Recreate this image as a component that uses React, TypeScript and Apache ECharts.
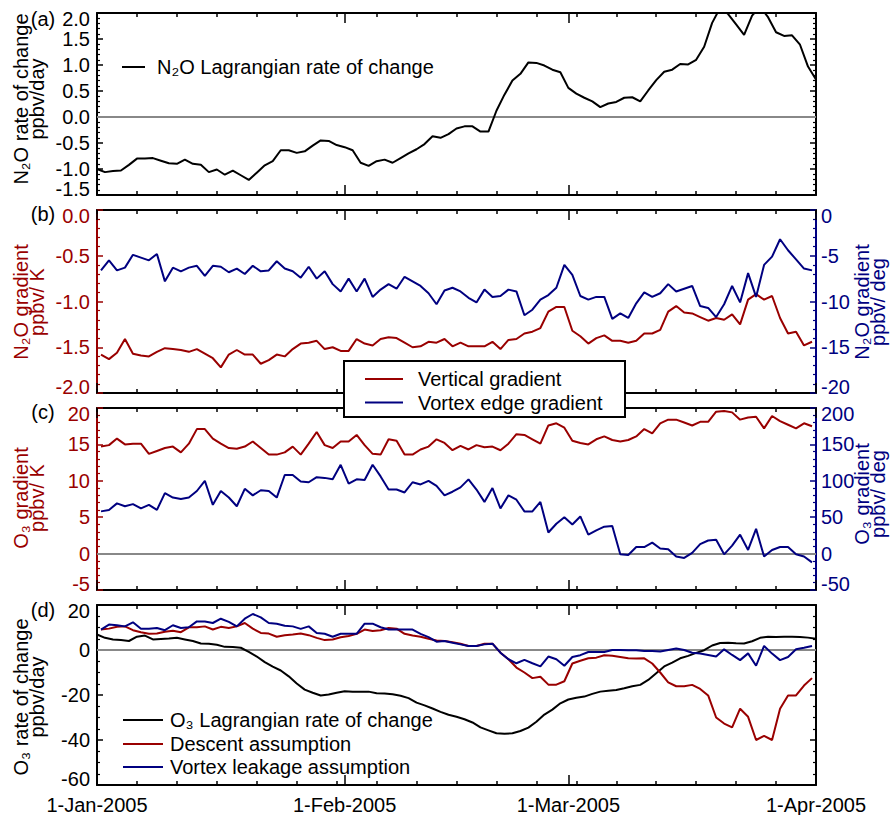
import React, { useEffect, useRef } from "react";
import * as echarts from "echarts";

// ---------- data ----------
// x axis: days since 1-Jan-2005
const monthTickDays = [0, 31, 59, 90];
const monthTickLabels = ["1-Jan-2005", "1-Feb-2005", "1-Mar-2005", "1-Apr-2005"];

// (a) N2O Lagrangian rate of change, ppbv/day, daily (day 0..90)
const n2oRate = [
  -1.0, -1.06, -1.04, -1.03, -0.92, -0.8, -0.8, -0.79, -0.84, -0.89,
  -0.9, -0.82, -0.9, -0.92, -1.06, -1.01, -1.11, -1.03, -1.12, -1.21,
  -1.07, -0.93, -0.85, -0.64, -0.64, -0.69, -0.66, -0.55, -0.45, -0.46,
  -0.54, -0.58, -0.64, -0.88, -0.94, -0.85, -0.82, -0.88, -0.79, -0.7,
  -0.62, -0.52, -0.37, -0.4, -0.33, -0.22, -0.18, -0.18, -0.28, -0.28,
  0.12, 0.43, 0.7, 0.83, 1.05, 1.04, 0.99, 0.91, 0.86, 0.56,
  0.45, 0.37, 0.3, 0.19, 0.26, 0.29, 0.37, 0.38, 0.3, 0.51,
  0.71, 0.87, 0.91, 1.02, 1.01, 1.1, 1.35, 1.81, 2.1, 1.98,
  1.78, 1.58, 1.95, 2.12, 1.92, 1.63, 1.56, 1.57, 1.39, 0.97,
  0.72,
];

// (b) N2O vertical gradient, ppbv/K (half days 0.5..89.5)
const n2oVertical = [
  -1.58, -1.63, -1.56, -1.41, -1.57, -1.59, -1.6, -1.55, -1.51, -1.52,
  -1.53, -1.55, -1.52, -1.57, -1.62, -1.72, -1.58, -1.53, -1.58, -1.58,
  -1.68, -1.64, -1.58, -1.6, -1.52, -1.46, -1.45, -1.43, -1.52, -1.5,
  -1.54, -1.54, -1.41, -1.46, -1.48, -1.41, -1.39, -1.4, -1.45, -1.5,
  -1.49, -1.44, -1.45, -1.41, -1.49, -1.45, -1.49, -1.49, -1.49, -1.44,
  -1.52, -1.42, -1.41, -1.35, -1.33, -1.29, -1.11, -1.06, -1.06, -1.32,
  -1.38, -1.46, -1.4, -1.37, -1.43, -1.43, -1.45, -1.43, -1.35, -1.35,
  -1.31, -1.11, -1.05, -1.12, -1.13, -1.17, -1.21, -1.18, -1.2, -1.14,
  -1.25, -0.98, -0.92, -0.98, -0.94, -1.18, -1.35, -1.33, -1.48, -1.44,
];

// (b) N2O vortex edge gradient, ppbv/deg
const n2oVortexEdge = [
  -6.6, -5.5, -6.6, -6.3, -4.9, -5.2, -5.5, -4.8, -7.8, -6.3,
  -6.7, -6.3, -6.1, -7.2, -6.1, -6.2, -6.8, -6.4, -7.0, -6.1,
  -6.7, -6.6, -5.6, -6.4, -6.7, -7.4, -6.2, -7.5, -6.7, -8.1,
  -8.9, -7.5, -8.9, -7.5, -9.5, -8.7, -8.1, -8.6, -7.3, -7.8,
  -8.3, -9.1, -10.3, -8.8, -8.5, -8.9, -9.6, -10.1, -8.7, -9.5,
  -9.4, -8.7, -8.9, -11.5, -10.9, -9.8, -9.3, -8.5, -6.0, -7.1,
  -9.4, -9.8, -9.5, -9.5, -11.9, -11.3, -11.8, -10.2, -9.0, -9.5,
  -9.1, -8.1, -8.9, -8.6, -8.3, -10.5, -10.7, -11.7, -10.3, -8.3,
  -10.1, -6.9, -9.5, -6.0, -5.1, -3.2, -4.4, -5.4, -6.4, -6.6,
];

// (c) O3 vertical gradient, ppbv/K
const o3Vertical = [
  14.7, 14.9, 15.8, 15.0, 15.1, 15.1, 13.7, 14.1, 14.5, 14.7,
  13.9, 15.1, 17.1, 17.1, 15.8, 15.1, 14.5, 14.4, 14.7, 15.4,
  14.5, 13.6, 13.6, 13.9, 14.7, 13.6, 15.1, 16.7, 14.9, 14.5,
  15.4, 15.4, 16.3, 14.9, 13.7, 13.6, 15.7, 15.5, 13.6, 13.6,
  14.3, 14.7, 15.7, 15.2, 14.2, 14.8, 14.3, 14.9, 14.6, 14.7,
  14.2, 15.1, 16.4, 16.3, 15.7, 15.1, 17.6, 17.9, 17.3, 15.5,
  15.2, 15.0, 15.7, 16.1, 15.6, 15.4, 15.6, 16.1, 17.1, 16.5,
  17.9, 18.4, 18.4, 18.0, 17.6, 18.1, 18.1, 19.5, 19.6, 19.4,
  18.4, 18.7, 18.8, 17.2, 18.9, 18.2, 17.7, 17.2, 17.9, 17.5,
];

// (c) O3 vortex edge gradient, ppbv/deg
const o3VortexEdge = [
  58, 60, 69, 65, 68, 62, 67, 60, 83, 77,
  75, 77, 86, 100, 67, 86, 77, 65, 89, 80,
  87, 86, 77, 108, 108, 99, 98, 105, 104, 102,
  122, 96, 102, 101, 122, 106, 88, 88, 84, 98,
  95, 100, 93, 80, 85, 91, 102, 88, 71, 90,
  62, 80, 74, 58, 58, 71, 29, 41, 50, 40,
  51, 26, 32, 37, 38, -1, -2, 9, 9, 15,
  7, 6, -4, -6, 1, 13, 18, 19, -1, 11,
  26, 5, 34, -4, 5, 9, 9, -1, -4, -12,
];

// (d) O3 Lagrangian rate of change, ppbv/day, daily (day 0..90)
const o3Rate = [
  6.9, 5.4, 4.7, 4.4, 4.0, 5.9, 6.4, 4.7, 4.9, 5.1,
  5.4, 4.7, 4.0, 2.9, 2.8, 2.3, 1.4, 1.3, 1.0, -0.8,
  -2.9, -5.4, -7.4, -9.1, -11.7, -14.9, -17.6, -19.0, -20.2, -19.8,
  -19.0, -18.3, -18.6, -18.6, -18.5, -19.2, -19.3, -19.7, -20.3, -21.4,
  -23.4, -24.6, -26.0, -27.5, -28.8, -29.7, -30.8, -32.2, -34.4, -35.7,
  -37.0, -37.2, -37.0, -36.0, -34.5, -31.9, -28.7, -26.5, -23.7, -22.0,
  -21.2, -20.7, -19.5, -18.5, -18.1, -17.8, -17.0, -16.1, -15.5, -13.3,
  -10.3, -7.3, -5.6, -3.7, -2.6, -1.3, -0.1, 2.0, 3.1, 3.2,
  3.0, 2.9, 3.9, 5.4, 5.9, 5.8, 5.9, 5.9, 5.8, 5.5,
  5.0,
];

// (d) Descent assumption
const o3Descent = [
  9.1, 9.5, 10.3, 10.5, 8.8, 7.9, 7.2, 7.3, 8.1, 8.6,
  7.9, 10.1, 10.1, 10.5, 9.1, 10.3, 9.8, 10.5, 12.0, 9.5,
  7.6, 7.3, 5.9, 6.6, 6.9, 7.3, 6.6, 5.4, 4.4, 4.7,
  5.7, 6.2, 7.2, 9.1, 8.4, 8.8, 9.8, 9.5, 7.2, 6.4,
  5.9, 5.0, 4.2, 4.0, 3.5, 2.8, 1.8, 1.8, 2.8, 2.8,
  -1.2, -4.1, -7.8, -10.0, -12.5, -11.9, -15.4, -15.4, -13.9, -6.0,
  -4.8, -3.7, -3.4, -2.3, -2.6, -3.1, -3.7, -3.8, -3.7, -6.0,
  -10.0, -14.4, -16.1, -16.1, -15.5, -17.3, -20.2, -30.0, -32.7, -34.4,
  -26.1, -29.7, -40.0, -38.2, -40.0, -26.1, -20.2, -20.2, -15.8, -12.5,
];

// (d) Vortex leakage assumption
const o3Leakage = [
  9.1, 11.3, 11.0, 10.5, 12.3, 9.4, 9.4, 9.8, 8.8, 11.0,
  9.8, 10.1, 12.7, 12.7, 12.0, 13.9, 12.5, 10.5, 13.9, 16.0,
  14.5, 12.0, 11.7, 10.8, 10.5, 9.4, 10.5, 7.6, 7.2, 5.9,
  7.2, 7.2, 7.2, 11.7, 11.7, 10.1, 9.1, 9.1, 9.1, 9.1,
  7.2, 5.7, 3.7, 4.0, 3.2, 2.5, 1.8, 1.8, 2.5, 2.8,
  -1.2, -4.1, -5.9, -4.4, -5.9, -7.3, -2.9, -4.1, -7.0, -3.1,
  -2.3, -0.9, -0.9, -0.9, 0.0, 0.0, -0.1, -0.1, -0.4, -0.4,
  -0.7, 0.0, 0.7, 0.0, -1.2, -1.6, -2.2, -2.9, 0.3, -2.2,
  -4.5, -1.5, -7.0, 1.8, -1.6, -4.5, -3.1, 0.3, 1.0, 1.8,
];

// ---------- style ----------
const RED = "#990000";
const BLUE = "#000080";
const BLACK = "#000000";
const GRAY = "#888888";
const FONT = '"Liberation Sans", Arial, Helvetica, sans-serif';
const FS = 20;

const daily = (arr: number[]) => arr.map((v, i) => [i, v]);
const halfDaily = (arr: number[]) => arr.map((v, i) => [i + 0.5, v]);

const gridTops = [13, 210, 408, 605];
const gridHeights = [182, 183, 182, 182];

function xAxesFor(g: number, showLabels: boolean) {
  const common: any = {
    type: "value",
    gridIndex: g,
    min: 0,
    max: 90,
    splitLine: { show: false },
  };
  const minor = (position: string) => ({
    ...common,
    position,
    interval: 5,
    axisLine: { show: true, onZero: false, lineStyle: { color: BLACK, width: 2 } },
    axisTick: { show: true, inside: true, length: 4, lineStyle: { color: BLACK, width: 1.5 } },
    axisLabel: { show: false },
  });
  const major = (position: string, labels: boolean) => ({
    ...common,
    position,
    axisLine: { show: false, onZero: false },
    axisTick: {
      show: true,
      inside: true,
      length: 10,
      customValues: monthTickDays,
      lineStyle: { color: BLACK, width: 1.5 },
    },
    axisLabel: labels
      ? {
          show: true,
          customValues: monthTickDays,
          formatter: (v: number) => monthTickLabels[monthTickDays.indexOf(Math.round(v))] || "",
          color: BLACK,
          fontSize: FS,
          fontFamily: FONT,
          margin: 10,
        }
      : { show: false },
  });
  return [minor("bottom"), minor("top"), major("bottom", showLabels), major("top", false)];
}

function yAxisOf(
  g: number,
  position: string,
  min: number,
  max: number,
  interval: number,
  split: number,
  color: string,
  showLabels: boolean,
  decimals: number,
  margin: number
) {
  return {
    type: "value",
    gridIndex: g,
    position,
    min,
    max,
    interval,
    splitLine: { show: false },
    axisLine: { show: true, onZero: false, lineStyle: { color, width: 2 } },
    axisTick: { show: true, inside: true, length: 6, lineStyle: { color, width: 1.5 } },
    minorTick: { show: true, splitNumber: split, length: 3, lineStyle: { color, width: 1.2 } },
    axisLabel: showLabels
      ? {
          show: true,
          showMinLabel: true,
          showMaxLabel: true,
          hideOverlap: false,
          color,
          fontSize: FS,
          fontFamily: FONT,
          lineHeight: 12,
          margin,
          formatter: (v: number) => v.toFixed(decimals),
          verticalAlignMinLabel: "bottom",
          verticalAlignMaxLabel: "top",
        }
      : { show: false },
  };
}

const zeroLine = {
  silent: true,
  symbol: ["none", "none"],
  label: { show: false },
  z: 1,
  lineStyle: { color: GRAY, width: 2, type: "solid" },
  emphasis: { disabled: true },
  data: [{ yAxis: 0 }],
};

function lineSeries(name: string, data: number[][], g: number, yIdx: number, color: string, extra: any = {}) {
  return {
    name,
    type: "line",
    xAxisIndex: g * 4,
    yAxisIndex: yIdx,
    data,
    showSymbol: false,
    symbol: "none",
    clip: true,
    lineStyle: { color, width: 2 },
    itemStyle: { color },
    emphasis: { disabled: true },
    z: 3,
    ...extra,
  };
}

function txt(text: string, x: number, y: number, color: string, opts: any = {}) {
  return {
    type: "text",
    x,
    y,
    z: 110,
    rotation: opts.rotation || 0,
    style: {
      text,
      fill: color,
      fontSize: FS,
      fontFamily: FONT,
      align: opts.align || "left",
      verticalAlign: "middle",
      lineHeight: opts.lineHeight || 22,
    },
  };
}

function seg(x1: number, x2: number, y: number, color: string) {
  return {
    type: "line",
    z: 110,
    shape: { x1, y1: y, x2, y2: y },
    style: { stroke: color, lineWidth: 2 },
  };
}

export default function App() {
  const ref = useRef<HTMLDivElement>(null);

  useEffect(() => {
    document.body.style.margin = "0";
    if (!ref.current) return;
    const chart = echarts.init(ref.current, undefined, { renderer: "svg" });

    const grids = gridTops.map((top, i) => ({
      left: 97,
      right: 80,
      top,
      height: gridHeights[i],
      containLabel: false,
    }));

    const xAxis = [
      ...xAxesFor(0, false),
      ...xAxesFor(1, false),
      ...xAxesFor(2, false),
      ...xAxesFor(3, true),
    ];

    const yAxis = [
      yAxisOf(0, "left", -1.5, 2.0, 0.5, 5, BLACK, true, 1, 7),
      yAxisOf(0, "right", -1.5, 2.0, 0.5, 5, BLACK, false, 1, 5),
      yAxisOf(1, "left", -2.0, 0.0, 0.5, 5, RED, true, 1, 7),
      yAxisOf(1, "right", -20, 0, 5, 5, BLUE, true, 0, 5),
      yAxisOf(2, "left", -5, 20, 5, 5, RED, true, 0, 7),
      yAxisOf(2, "right", -50, 200, 50, 5, BLUE, true, 0, 5),
      yAxisOf(3, "left", -60, 20, 20, 4, BLACK, true, 0, 7),
      yAxisOf(3, "right", -60, 20, 20, 4, BLACK, false, 0, 5),
    ];

    const series = [
      lineSeries("N₂O Lagrangian rate of change", daily(n2oRate), 0, 0, BLACK, { markLine: zeroLine }),
      lineSeries("Vertical gradient (N₂O)", halfDaily(n2oVertical), 1, 2, RED),
      lineSeries("Vortex edge gradient (N₂O)", halfDaily(n2oVortexEdge), 1, 3, BLUE),
      lineSeries("Vertical gradient (O₃)", halfDaily(o3Vertical), 2, 4, RED, { markLine: zeroLine }),
      lineSeries("Vortex edge gradient (O₃)", halfDaily(o3VortexEdge), 2, 5, BLUE),
      lineSeries("O₃ Lagrangian rate of change", daily(o3Rate), 3, 6, BLACK, { markLine: zeroLine }),
      lineSeries("Descent assumption", halfDaily(o3Descent), 3, 6, RED),
      lineSeries("Vortex leakage assumption", halfDaily(o3Leakage), 3, 6, BLUE),
    ];

    const graphic = [
      // panel letters
      txt("(a)", 43, 19, BLACK, { align: "center" }),
      txt("(b)", 43, 214, BLACK, { align: "center" }),
      txt("(c)", 43, 412, BLACK, { align: "center" }),
      txt("(d)", 43, 610, BLACK, { align: "center" }),
      // left axis titles
      txt("N₂O rate of change\nppbv/day", 29, 99, BLACK, { align: "center", rotation: Math.PI / 2, lineHeight: 16 }),
      txt("N₂O gradient\nppbv/ K", 29, 302, RED, { align: "center", rotation: Math.PI / 2, lineHeight: 16 }),
      txt("O₃ gradient\nppbv/ K", 29, 498, RED, { align: "center", rotation: Math.PI / 2, lineHeight: 16 }),
      txt("O₃ rate of change\nppbv/day", 29, 697, BLACK, { align: "center", rotation: Math.PI / 2, lineHeight: 16 }),
      // right axis titles
      txt("N₂O gradient\nppbv/ deg", 870, 302, BLUE, { align: "center", rotation: Math.PI / 2, lineHeight: 16 }),
      txt("O₃ gradient\nppbv/ deg", 870, 494, BLUE, { align: "center", rotation: Math.PI / 2, lineHeight: 16 }),
      // legend (a)
      seg(122, 145, 67, BLACK),
      txt("N₂O Lagrangian rate of change", 157, 67, BLACK),
      // legend box (b)/(c)
      {
        type: "rect",
        z: 105,
        shape: { x: 344, y: 361, width: 281, height: 56 },
        style: { fill: "#ffffff", stroke: BLACK, lineWidth: 2 },
      },
      seg(365, 403, 379, RED),
      txt("Vertical gradient", 418, 379, BLACK),
      seg(365, 403, 402.5, BLUE),
      txt("Vortex edge gradient", 418, 402.5, BLACK),
      // legend (d)
      seg(123, 163, 720, BLACK),
      txt("O₃ Lagrangian rate of change", 170, 720, BLACK),
      seg(123, 163, 744, RED),
      txt("Descent assumption", 170, 744, BLACK),
      seg(123, 163, 767, BLUE),
      txt("Vortex leakage assumption", 170, 767, BLACK),
    ];

    chart.setOption({
      animation: false,
      backgroundColor: "#ffffff",
      textStyle: { fontFamily: FONT },
      grid: grids,
      xAxis,
      yAxis,
      series,
      graphic,
    });

    return () => {
      chart.dispose();
    };
  }, []);

  return <div ref={ref} style={{ width: 896, height: 815 }} />;
}
